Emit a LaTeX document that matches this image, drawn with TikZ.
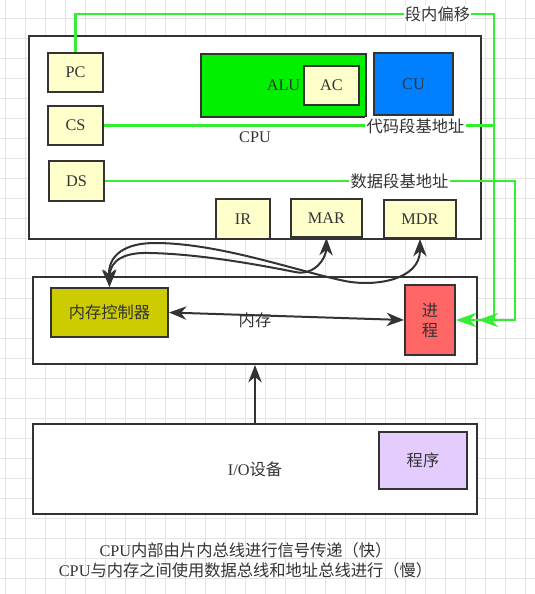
\documentclass[tikz,border=0pt]{standalone}
\usepackage{fontspec}
\setmainfont{Liberation Serif}
\newfontfamily\cjk{Noto Sans CJK SC}
\usetikzlibrary{arrows.meta}
\definecolor{dk}{HTML}{333333}
\definecolor{gridc}{HTML}{E4E4E4}
\definecolor{grn}{HTML}{33EE33}
\definecolor{regc}{HTML}{FFFFCC}
\definecolor{alug}{HTML}{00F000}
\definecolor{cub}{HTML}{007FFF}
\definecolor{olivec}{HTML}{CCCC00}
\definecolor{procr}{HTML}{FF6666}
\definecolor{progp}{HTML}{E5CCFF}
\begin{document}
\begin{tikzpicture}[x=0.75pt,y=-0.75pt,
  box/.style={draw=dk, line width=1.5pt, inner sep=0pt, text=dk, fill=white,
    font=\fontsize{12.2}{15}\selectfont, align=center},
  reg/.style={box, fill=regc},
  gline/.style={draw=grn, line width=1.8pt},
  garrow/.style={-{Stealth[length=15pt,width=10.5pt,inset=4.5pt]}},
  darr/.style={draw=dk, line width=1.5pt, >={Stealth[length=13pt,width=10pt,inset=4pt]}},
  glabel/.style={fill=white, inner sep=1pt, text=dk, font=\fontsize{12.2}{15}\selectfont\cjk},
  txt/.style={text=dk, font=\fontsize{12.2}{15}\selectfont, align=center, inner sep=0pt}]
\useasboundingbox (0,0) rectangle (535,594);
\fill[white] (0,0) rectangle (535,594);
\foreach \x in {5,25,...,525} \draw[gridc, line width=0.75pt] (\x,0) -- (\x,594);
\foreach \y in {18,38,...,578} \draw[gridc, line width=0.75pt] (0,\y) -- (535,\y);

% CPU
\node[box, minimum width=339pt, minimum height=152.25pt] (cpu) at (255,137.5) {CPU};
\node[reg, minimum width=41.25pt, minimum height=29.25pt] (pc) at (75.5,72.5) {PC};
\node[reg, minimum width=41.25pt, minimum height=29.25pt] (cs) at (75.5,125.5) {CS};
\node[reg, minimum width=41.25pt, minimum height=30pt] (ds) at (76.5,181) {DS};
\node[box, fill=alug, minimum width=123.75pt, minimum height=47.25pt] (alu) at (283.5,85.5) {ALU};
\node[reg, minimum width=41.25pt, minimum height=29.25pt] (ac) at (331.5,85.5) {AC};
\node[box, fill=cub, minimum width=59.25pt, minimum height=46.5pt] (cu) at (413.5,84) {CU};
\node[reg, minimum width=40.5pt, minimum height=30pt] (ir) at (243,219) {IR};
\node[reg, minimum width=53.25pt, minimum height=28.5pt] (mar) at (326.5,218) {MAR};
\node[reg, minimum width=54pt, minimum height=28.5pt] (mdr) at (420,219) {MDR};

% Memory
\node[box, minimum width=333pt, minimum height=65.25pt] (mem) at (255,320.5) {\cjk 内存};
\node[box, fill=olivec, minimum width=87.75pt, minimum height=36.75pt] (mc) at (109.5,312.5) {\cjk 内存控制器};
\node[box, fill=procr, minimum width=37.5pt, minimum height=52.5pt] (proc) at (430,320) {\cjk 进\\\cjk 程};

% IO
\node[box, minimum width=333pt, minimum height=67.5pt] (io) at (255,469) {I/O{\cjk 设备}};
\node[box, fill=progp, minimum width=66pt, minimum height=42.75pt] (prog) at (423,460.5) {\cjk 程序};

% green lines
\coordinate (gA) at (494,14);
\coordinate (gB) at (494,320);
\coordinate (gD) at (515,320);
\draw[gline, garrow] (pc.north) |- (gA) -- (gB) -- (mem.east |- gB);
\draw[gline] (cs.east) -- (cs.east -| gA);
\draw[gline, garrow] (ds.east) -| (gD) -- (proc.east);
\node[glabel] (l1) at (437.5,14) {段内偏移};
\node[glabel] (l2) at (415.5,126) {代码段基地址};
\node[glabel] (l3) at (399.5,181) {数据段基地址};

% dark connectors
\draw[darr, <->] (mc.east) -- (proc.west);
\draw[darr, ->] (io.north) -- (mem.south);
\draw[darr, <->] (mc.north) .. controls (110,260) and (125,252) .. (150,253)
  .. controls (200,254) and (260,265) .. (295,272)
  .. controls (315,276) and (326,258) .. (mar.south);
\draw[darr, <->] (mc.north) .. controls (108,255) and (125,243) .. (155,243)
  .. controls (220,243) and (300,272) .. (345,281)
  .. controls (375,287) and (420,280) .. (mdr.south);

% note
\node[txt] (note) at (245.5,560) {CPU{\cjk 内部由片内总线进行信号传递（快）}\\CPU{\cjk 与内存之间使用数据总线和地址总线进行（慢）}};
\end{tikzpicture}
\end{document}
